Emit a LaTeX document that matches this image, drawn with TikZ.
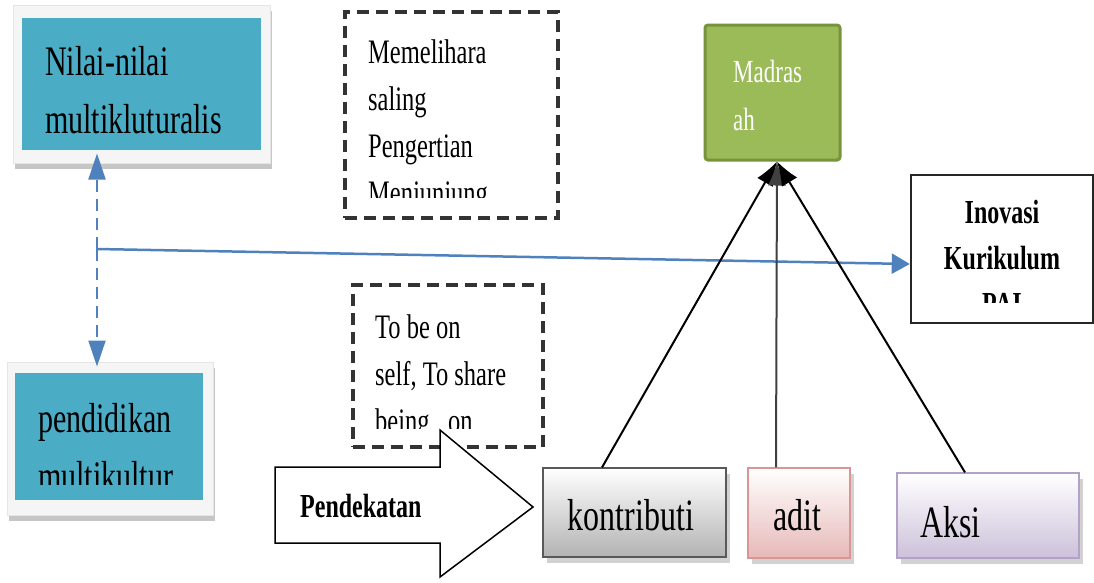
\documentclass[tikz,border=0pt]{standalone}
\usepackage{fontspec}
\setmainfont{Liberation Serif}
\usepackage{graphicx}
\usetikzlibrary{arrows.meta,shadows}

\definecolor{tealfill}{HTML}{4BACC6}
\definecolor{linkblue}{HTML}{4F81BD}
\definecolor{greenfill}{HTML}{9BBB59}
\definecolor{greenedge}{HTML}{77933C}
\definecolor{pinkfill}{HTML}{E6B9B8}
\definecolor{pinkedge}{HTML}{D99694}
\definecolor{lilacfill}{HTML}{CCC1DA}
\definecolor{lilacedge}{HTML}{B3A2C7}

\newcommand{\tallt}[1]{\scalebox{1}[1.4]{#1}}

\begin{document}
\begin{tikzpicture}[x=1pt, y=-1pt,
    framebox/.style={fill=gray!8, draw=gray!20, line width=1pt, inner sep=0pt,
      drop shadow={shadow xshift=2pt, shadow yshift=-6pt, fill=gray!45, opacity=1}},
    tealbox/.style={fill=tealfill, inner sep=0pt},
    notebox/.style={draw=black!80, line width=3.5pt, dash pattern=on 12pt off 7pt, inner sep=0pt},
    endbox/.style={line width=1.2pt, inner sep=0pt,
      drop shadow={shadow xshift=4pt, shadow yshift=-6pt, fill=gray!35, opacity=1}},
    tealtext/.style={anchor=base west, inner sep=0pt, font=\fontsize{30}{36}\selectfont},
    notetext/.style={anchor=base west, inner sep=0pt, font=\fontsize{24.5}{30}\selectfont},
    boldtext/.style={anchor=base, inner sep=0pt, font=\fontsize{24}{30}\selectfont\bfseries},
    endtext/.style={anchor=base, inner sep=0pt, font=\fontsize{32}{38}\selectfont},
    bluedash/.style={draw=linkblue, line width=2pt, dash pattern=on 12pt off 7pt,
      -{Triangle[length=26pt,width=17pt]}},
    spoke/.style={draw=black, line width=2pt, -{Latex[length=24pt,width=18pt]}}]

  \useasboundingbox (0,0) rectangle (1094,582);

  % Nilai-nilai box
  \node[framebox, minimum width=257pt, minimum height=158pt] (nilaiframe) at (141.5,84) {};
  \node[tealbox, minimum width=239pt, minimum height=132pt] (nilai) at (141.5,84) {};
  \node[tealtext] (nilai1) at (45,75) {\tallt{Nilai-nilai}};
  \node[tealtext] (nilai2) at (45,133) {\tallt{multikluturalis}};

  % pendidikan box
  \node[framebox, minimum width=206pt, minimum height=153pt] (pendframe) at (110,438.5) {};
  \node[tealbox, minimum width=188pt, minimum height=127pt] (pend) at (109,436.5) {};
  \begin{scope}
    \clip (15,373) rectangle (203,484);
    \node[tealtext] (pend1) at (38,432) {\tallt{pendidikan}};
    \node[tealtext] (pend2) at (38,490) {\tallt{multikultur}};
  \end{scope}

  % Inovasi box
  \node[draw=black!85, line width=2.5pt, fill=white, minimum width=182pt, minimum height=148pt] (inovasi) at (1002,249) {};
  \begin{scope}
    \clip (914,178) rectangle (1090,302);
    \foreach \word [count=\i] in {Inovasi, Kurikulum, PAI}
      \node[boldtext] (inovasi\i) at (1002,{223+46*(\i-1)}) {\tallt{\word}};
  \end{scope}

  % Arrows from the junction
  \coordinate (junc) at (97,249);
  \draw[bluedash, shorten >=-10pt] (junc) -- (nilaiframe.south -| junc);
  \draw[bluedash, shorten >=-5pt] (junc) -- (pendframe.north -| junc);
  \draw[draw=linkblue, line width=2.5pt, -{Triangle[length=18pt,width=20pt]}] (junc) -- ([yshift=-15pt]inovasi.west);

  % Notes
  \node[notebox, minimum width=213pt, minimum height=206pt] (memel) at (451.5,115) {};
  \begin{scope}
    \clip (350,15) rectangle (555,197);
    \foreach \word [count=\i] in {Memelihara, saling, Pengertian, Menjunjung}
      \node[notetext] (memel\i) at (368,{63+47*(\i-1)}) {\tallt{\word}};
  \end{scope}
  \node[notebox, minimum width=190pt, minimum height=162pt] (share) at (448,366) {};
  \begin{scope}
    \clip (356,288) rectangle (540,428);
    \foreach \word [count=\i] in {To be on, {self, To share}, being\ \ \ on}
      \node[notetext] (share\i) at (375,{338+47*(\i-1)}) {\tallt{\word}};
  \end{scope}

  % Pendekatan arrow
  \draw[fill=white, line width=1.5pt] (275,467) -- (440,467) -- (440,430) -- (533,507)
    -- (440,577) -- (440,543) -- (275,543) -- cycle;
  \node[boldtext, anchor=base west] (pendekatan) at (300,517) {\tallt{Pendekatan}};

  % Madrasah
  \node[fill=greenfill, draw=greenedge, line width=3pt, rounded corners=3pt,
    minimum width=135pt, minimum height=135pt] (madrasah) at (772.5,92.5) {};
  \node[notetext, text=white, font=\fontsize{23}{28}\selectfont] (madr1) at (733,82) {\tallt{Madras}};
  \node[notetext, text=white, font=\fontsize{23}{28}\selectfont] (madr2) at (733,130) {\tallt{ah}};

  % Bottom boxes
  \node[endbox, draw=black!65, top color=white, bottom color=gray!60,
    minimum width=183pt, minimum height=89pt] (kontributi) at (634.5,512.5) {};
  \node[endtext] (kontributi1) at (631,530) {\tallt{kontributi}};
  \node[endbox, draw=pinkedge, top color=white, bottom color=pinkfill,
    minimum width=102pt, minimum height=90pt] (adit) at (799,513) {};
  \node[endtext] (adit1) at (797,530) {\tallt{adit}};
  \node[endbox, draw=lilacedge, top color=white, bottom color=lilacfill,
    minimum width=182pt, minimum height=85pt] (aksi) at (988,515.5) {};
  \node[endtext, anchor=base west] (aksi1) at (920,537) {\tallt{Aksi}};

  % Spokes to Madrasah
  \draw[spoke] ([xshift=-32.5pt]kontributi.north) -- ([xshift=4.5pt]madrasah.south);
  \draw[spoke, draw=black!75] ([xshift=-23pt]adit.north) -- ([xshift=4.5pt]madrasah.south);
  \draw[spoke] ([xshift=-23pt]aksi.north) -- ([xshift=4.5pt]madrasah.south);
\end{tikzpicture}
\end{document}
